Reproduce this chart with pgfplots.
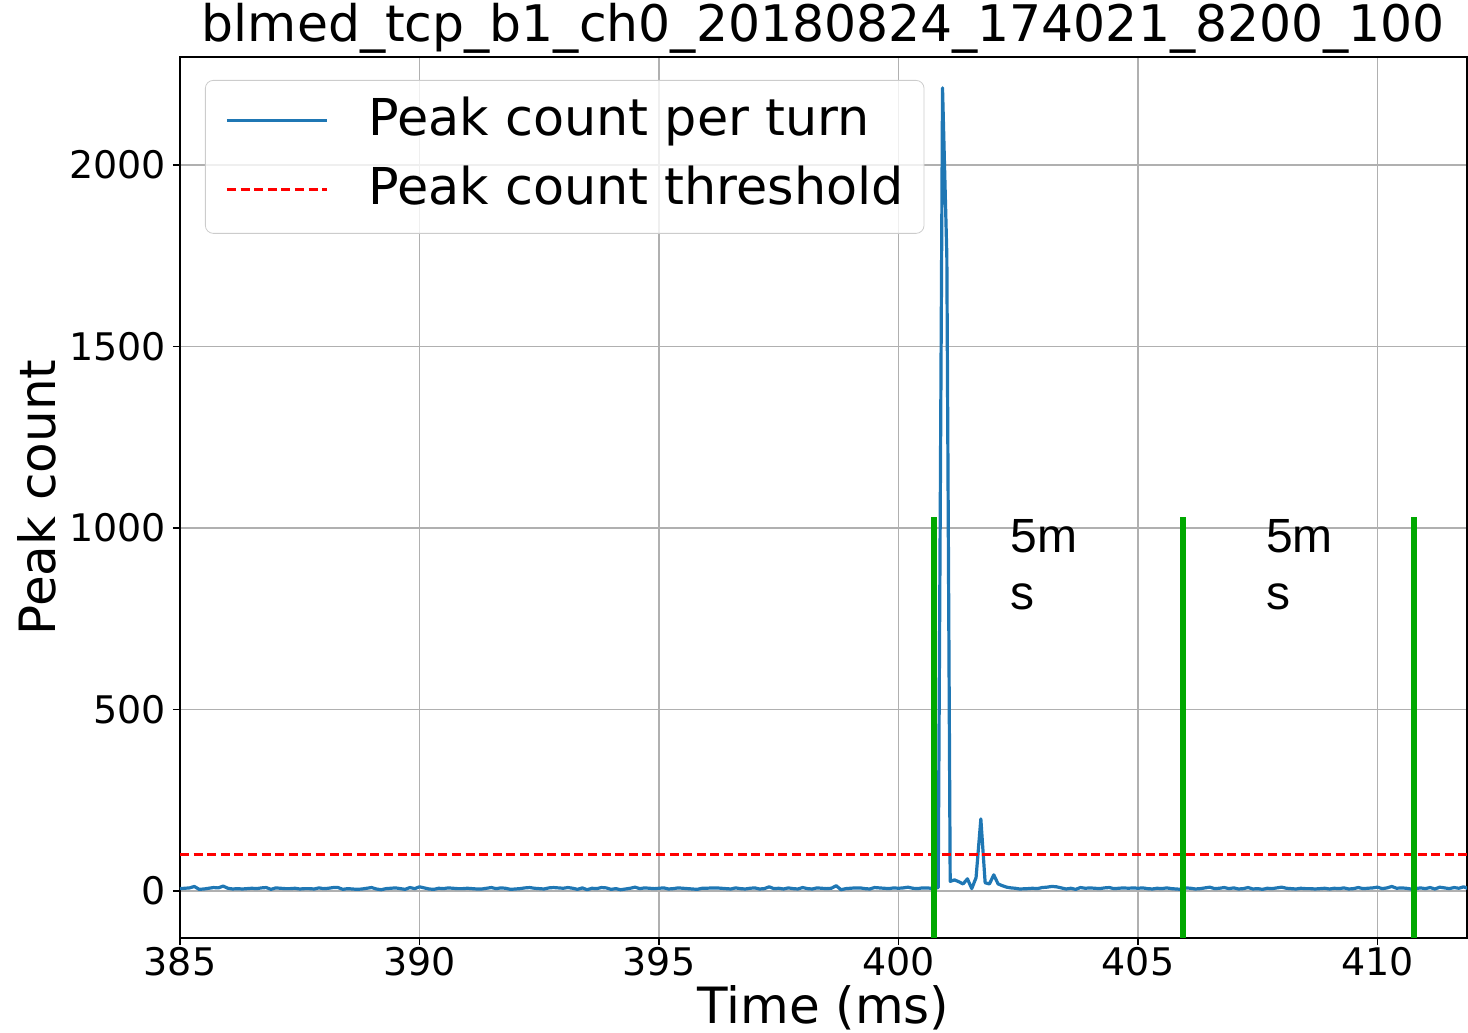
\documentclass[border=0pt]{standalone}
\usepackage{pgfplots}
\pgfplotsset{compat=1.18}
\usepackage{pgfplotstable}
\usepackage{fontspec}
\setmainfont{DejaVu Sans}
\newfontfamily\annfont{Liberation Sans}

\definecolor{mplblue}{HTML}{1F77B4}
\definecolor{markgreen}{RGB}{0,168,0}

% Peak count per turn (time in ms)
\pgfplotstableread[row sep=\\]{
t n\\
385.0 6\\ 385.1 7\\ 385.2 8\\ 385.3 12\\ 385.4 4\\ 385.5 5\\ 385.6 7\\ 385.7 9\\ 385.8 8\\ 385.9 13\\
386.0 7\\ 386.1 5\\ 386.2 6\\ 386.3 5\\ 386.4 6\\ 386.5 7\\ 386.6 6\\ 386.7 8\\ 386.8 9\\ 386.9 4\\
387.0 8\\ 387.1 7\\ 387.2 6\\ 387.3 6\\ 387.4 7\\ 387.5 5\\ 387.6 6\\ 387.7 6\\ 387.8 5\\ 387.9 8\\
388.0 6\\ 388.1 7\\ 388.2 9\\ 388.3 9\\ 388.4 4\\ 388.5 6\\ 388.6 5\\ 388.7 4\\ 388.8 5\\ 388.9 7\\
389.0 9\\ 389.1 5\\ 389.2 3\\ 389.3 6\\ 389.4 7\\ 389.5 8\\ 389.6 6\\ 389.7 4\\ 389.8 9\\ 389.9 6\\
390.0 11\\ 390.1 8\\ 390.2 5\\ 390.3 4\\ 390.4 7\\ 390.5 6\\ 390.6 8\\ 390.7 7\\ 390.8 6\\ 390.9 6\\
391.0 7\\ 391.1 6\\ 391.2 5\\ 391.3 5\\ 391.4 7\\ 391.5 9\\ 391.6 6\\ 391.7 8\\ 391.8 7\\ 391.9 4\\
392.0 5\\ 392.1 6\\ 392.2 8\\ 392.3 9\\ 392.4 7\\ 392.5 6\\ 392.6 5\\ 392.7 8\\ 392.8 9\\ 392.9 8\\
393.0 7\\ 393.1 9\\ 393.2 7\\ 393.3 4\\ 393.4 8\\ 393.5 3\\ 393.6 7\\ 393.7 6\\ 393.8 9\\ 393.9 8\\
394.0 4\\ 394.1 6\\ 394.2 3\\ 394.3 5\\ 394.4 7\\ 394.5 10\\ 394.6 6\\ 394.7 8\\ 394.8 7\\ 394.9 6\\
395.0 7\\ 395.1 8\\ 395.2 5\\ 395.3 6\\ 395.4 8\\ 395.5 7\\ 395.6 6\\ 395.7 5\\ 395.8 4\\ 395.9 7\\
396.0 7\\ 396.1 8\\ 396.2 8\\ 396.3 7\\ 396.4 6\\ 396.5 5\\ 396.6 8\\ 396.7 6\\ 396.8 5\\ 396.9 7\\
397.0 8\\ 397.1 5\\ 397.2 6\\ 397.3 11\\ 397.4 6\\ 397.5 7\\ 397.6 5\\ 397.7 8\\ 397.8 6\\ 397.9 5\\
398.0 9\\ 398.1 6\\ 398.2 5\\ 398.3 8\\ 398.4 7\\ 398.5 6\\ 398.6 7\\ 398.7 14\\ 398.8 3\\ 398.9 6\\
399.0 7\\ 399.1 8\\ 399.2 8\\ 399.3 6\\ 399.4 5\\ 399.5 9\\ 399.6 8\\ 399.7 7\\ 399.8 6\\ 399.9 8\\
400.0 7\\ 400.1 8\\ 400.2 10\\ 400.3 7\\ 400.4 6\\ 400.5 8\\ 400.6 8\\
400.74 6\\ 400.83 9\\ 400.92 2212\\ 401.01 1750\\ 401.08 26\\ 401.17 30\\ 401.26 25\\
401.35 19\\ 401.44 33\\ 401.53 6\\ 401.62 36\\ 401.72 198\\ 401.81 22\\ 401.90 19\\
401.99 44\\ 402.08 19\\ 402.17 14\\ 402.26 10\\ 402.35 8\\ 402.44 7\\ 402.53 5\\
402.7 6\\ 402.8 7\\ 402.9 6\\
403.0 9\\ 403.1 10\\ 403.2 12\\ 403.3 11\\ 403.4 8\\ 403.5 5\\ 403.6 7\\ 403.7 4\\ 403.8 9\\ 403.9 7\\
404.0 8\\ 404.1 7\\ 404.2 6\\ 404.3 8\\ 404.4 9\\ 404.5 6\\ 404.6 7\\ 404.7 8\\ 404.8 7\\ 404.9 8\\
405.0 7\\ 405.1 8\\ 405.2 6\\ 405.3 5\\ 405.4 7\\ 405.5 6\\ 405.6 8\\ 405.7 6\\ 405.8 5\\ 405.9 4\\
406.0 8\\ 406.1 7\\ 406.2 5\\ 406.3 6\\ 406.4 8\\ 406.5 10\\ 406.6 6\\ 406.7 7\\ 406.8 9\\ 406.9 6\\
407.0 8\\ 407.1 5\\ 407.2 6\\ 407.3 9\\ 407.4 5\\ 407.5 6\\ 407.6 4\\ 407.7 7\\ 407.8 6\\ 407.9 8\\
408.0 10\\ 408.1 7\\ 408.2 6\\ 408.3 5\\ 408.4 7\\ 408.5 6\\ 408.6 6\\ 408.7 5\\ 408.8 6\\ 408.9 7\\
409.0 5\\ 409.1 7\\ 409.2 6\\ 409.3 8\\ 409.4 5\\ 409.5 6\\ 409.6 9\\ 409.7 6\\ 409.8 7\\ 409.9 8\\
410.0 10\\ 410.1 6\\ 410.2 8\\ 410.3 12\\ 410.4 7\\ 410.5 8\\ 410.6 7\\ 410.7 5\\ 410.8 6\\ 410.9 8\\
411.0 6\\ 411.1 9\\ 411.2 5\\ 411.3 10\\ 411.4 8\\ 411.5 6\\ 411.6 9\\ 411.7 7\\ 411.8 11\\ 411.9 6\\
}\peakdata

\begin{document}
\begin{tikzpicture}
\begin{axis}[
  scale only axis,
  width=643.5pt, height=440.5pt,
  at={(0,0)}, anchor=south west,
  xmin=385, xmax=411.87,
  ymin=-130, ymax=2297,
  xtick={385,390,...,410},
  ytick={0,500,...,2000},
  xtick pos=left, ytick pos=left,
  tick align=outside,
  major tick length=3.5pt,
  tick style={line width=0.8pt, black},
  axis line style={line width=0.8pt},
  grid=major,
  major grid style={color=black!31, line width=0.8pt},
  ticklabel style={font=\fontsize{19}{22}\selectfont},
  xticklabel style={yshift=2.5pt},
  /pgf/number format/assume math mode=true,
  /pgf/number format/set thousands separator={},
  title={blmed\_tcp\_b1\_ch0\_20180824\_174021\_8200\_100},
  title style={font=\fontsize{25.2}{30}\selectfont, at={(axis description cs:0.5,1)}, anchor=base, yshift=1.5pt},
  xlabel={Time (ms)},
  xlabel style={font=\fontsize{25}{30}\selectfont, at={(axis description cs:0.5,-0.0975)}, anchor=base},
  ylabel={Peak count},
  ylabel style={font=\fontsize{25}{30}\selectfont, at={(axis description cs:-0.0971,0.5)}, anchor=base},
  legend cell align=left,
  legend image code/.code={\draw[#1] (0pt,1pt) -- (50pt,1pt);},
  legend style={
    at={(axis description cs:0.0194,0.9739)}, anchor=north west,
    draw=black!20, fill=white, fill opacity=0.8, text opacity=1,
    rounded corners=4pt,
    inner xsep=10pt, inner ysep=9pt,
    row sep=10.5pt,
    font=\fontsize{25.4}{30}\selectfont,
    nodes={inner sep=0pt, text height=18.5pt, text depth=5.5pt},
    /tikz/every odd column/.append style={column sep=20pt},
  },
]
\addplot[color=mplblue, line width=1.6pt, line join=round] table[x=t, y=n] {\peakdata};
\addlegendentry{Peak count per turn}
\addplot[color=red, line width=1.2pt, dash pattern=on 4.5pt off 2.3pt] coordinates {(385,100) (411.87,100)};
\addlegendentry{Peak count threshold}

% 5 ms windows
\addplot[color=markgreen, line width=3pt, forget plot] coordinates {(400.75,-130) (400.75,1030)};
\addplot[color=markgreen, line width=3pt, forget plot] coordinates {(405.94,-130) (405.94,1030)};
\addplot[color=markgreen, line width=3pt, forget plot] coordinates {(410.76,-130) (410.76,1030)};

\node[anchor=base west, inner sep=0pt, font=\annfont\fontsize{24}{28}\selectfont] at (axis cs:402.33,931) {5m};
\node[anchor=base west, inner sep=0pt, font=\annfont\fontsize{24}{28}\selectfont] at (axis cs:402.33,774) {s};
\node[anchor=base west, inner sep=0pt, font=\annfont\fontsize{24}{28}\selectfont] at (axis cs:407.67,931) {5m};
\node[anchor=base west, inner sep=0pt, font=\annfont\fontsize{24}{28}\selectfont] at (axis cs:407.67,774) {s};
\end{axis}
\pgfresetboundingbox
\path[use as bounding box] (-90pt,-47.5pt) rectangle (644pt,469pt);
\end{tikzpicture}
\end{document}
